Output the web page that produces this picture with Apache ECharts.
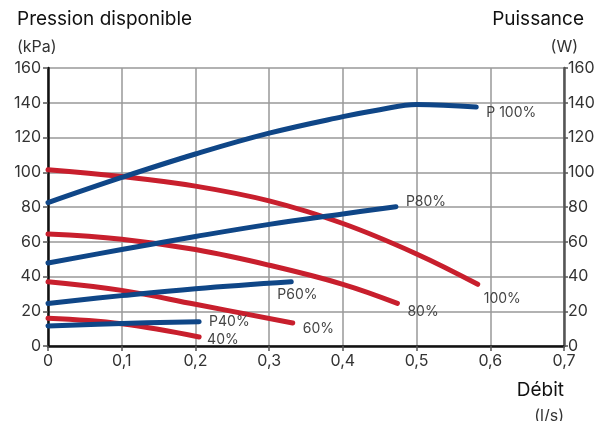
<!DOCTYPE html>
<html>
<head>
<meta charset="utf-8">
<script src="https://cdn.jsdelivr.net/npm/echarts@6/dist/echarts.min.js"></script>
<style>
  html, body { margin: 0; padding: 0; background: #fff; }
  #main { width: 600px; height: 421px; }
</style>
</head>
<body>
<div id="main"></div>
<script>
// courbes pression (rouge) et puissance (bleu), debit en l/s
var xTicks = [0, 0.1, 0.2, 0.3, 0.4, 0.5, 0.6, 0.7];
var yTicks = [0, 20, 40, 60, 80, 100, 120, 140, 160];

var p100x = [0, 0.1, 0.2, 0.3, 0.4, 0.5, 0.583];
var p100y = [101.5, 97.5, 92, 83.5, 70.5, 53, 35.5];
var p80x = [0, 0.1, 0.2, 0.3, 0.4, 0.474];
var p80y = [64.5, 61.5, 55.5, 46.5, 35.5, 24.5];
var p60x = [0, 0.1, 0.2, 0.332];
var p60y = [37, 32, 24, 13.2];
var p40x = [0, 0.1, 0.205];
var p40y = [16, 12.8, 5.2];

var w100x = [0, 0.1, 0.2, 0.3, 0.4, 0.45, 0.5, 0.581];
var w100y = [82.5, 97, 110.5, 122.5, 132, 136, 139, 137.5];
var w80x = [0, 0.1, 0.2, 0.3, 0.4, 0.472];
var w80y = [47.8, 55.5, 63, 70, 76, 80.2];
var w60x = [0, 0.1, 0.2, 0.33];
var w60y = [24.5, 29, 33, 37];
var w40x = [0, 0.1, 0.205];
var w40y = [11.5, 13, 14];

var RED = '#c81f2d';
var BLUE = '#0f4687';
var FONT = 'Inter';

function pts(xs, ys) {
  var out = [];
  for (var i = 0; i < xs.length; i++) out.push([xs[i], ys[i]]);
  return out;
}

function courbe(name, xs, ys, color, yIdx, label, offset) {
  return {
    name: name,
    type: 'line',
    yAxisIndex: yIdx,
    smooth: 0.4,
    symbol: 'none',
    data: pts(xs, ys),
    lineStyle: { color: color, width: 5, cap: 'round' },
    endLabel: {
      show: true,
      formatter: label,
      offset: offset,
      color: '#444',
      fontFamily: FONT,
      fontSize: 14
    },
    z: 3
  };
}

var chart = echarts.init(document.getElementById('main'));
var fmt = function (v) { return String(v).replace('.', ','); };

var option = {
  backgroundColor: '#fff',
  animation: false,
  textStyle: { fontFamily: FONT },
  title: [
    { text: 'Pression disponible', left: 12, top: 5, textStyle: { fontSize: 19, fontWeight: 'normal', color: '#111', fontFamily: FONT } },
    { text: '(kPa)', left: 12, top: 34, textStyle: { fontSize: 16, fontWeight: 'normal', color: '#333', fontFamily: FONT } },
    { text: 'Puissance', right: 11, top: 5, textStyle: { fontSize: 19, fontWeight: 'normal', color: '#111', fontFamily: FONT } },
    { text: '(W)', right: 17, top: 34, textStyle: { fontSize: 16, fontWeight: 'normal', color: '#333', fontFamily: FONT } },
    { text: 'Débit', right: 31, top: 376, textStyle: { fontSize: 19, fontWeight: 'normal', color: '#111', fontFamily: FONT } },
    { text: '(l/s)', right: 31, top: 403, textStyle: { fontSize: 16, fontWeight: 'normal', color: '#333', fontFamily: FONT } }
  ],
  grid: { left: 48, right: 36, top: 68, bottom: 75, show: false },
  xAxis: {
    type: 'value',
    min: xTicks[0],
    max: xTicks[xTicks.length - 1],
    interval: 0.1,
    axisLine: { show: true, onZero: false, lineStyle: { color: '#111', width: 2.5 } },
    axisTick: { show: true, length: 5, lineStyle: { color: '#555', width: 1.5 } },
    axisLabel: { color: '#333', fontSize: 16, fontFamily: FONT, margin: 7, formatter: fmt },
    splitLine: { show: true, lineStyle: { color: '#999', width: 1.5 } }
  },
  yAxis: [{
    type: 'value',
    min: yTicks[0],
    max: yTicks[yTicks.length - 1],
    interval: 20,
    position: 'left',
    axisLine: { show: true, onZero: false, lineStyle: { color: '#111', width: 2.5 } },
    axisTick: { show: true, length: 5, lineStyle: { color: '#555', width: 1.5 } },
    axisLabel: { color: '#333', fontSize: 16, fontFamily: FONT, margin: 7 },
    splitLine: { show: true, lineStyle: { color: '#999', width: 1.5 } }
  }, {
    type: 'value',
    min: yTicks[0],
    max: yTicks[yTicks.length - 1],
    interval: 20,
    position: 'right',
    axisLine: { show: true, onZero: false, lineStyle: { color: '#555', width: 2.5 } },
    axisTick: { show: true, length: 4, lineStyle: { color: '#555', width: 1.5 } },
    axisLabel: { color: '#333', fontSize: 16, fontFamily: FONT, margin: 4 },
    splitLine: { show: false }
  }],
  series: [
    courbe('100%', p100x, p100y, RED, 0, '100%', [-2, 14]),
    courbe('80%', p80x, p80y, RED, 0, '80%', [2, 8]),
    courbe('60%', p60x, p60y, RED, 0, '60%', [2, 6]),
    courbe('40%', p40x, p40y, RED, 0, '40%', [0, 3]),
    courbe('P 100%', w100x, w100y, BLUE, 1, 'P 100%', [2, 6]),
    courbe('P80%', w80x, w80y, BLUE, 1, 'P80%', [2, -5]),
    courbe('P60%', w60x, w60y, BLUE, 1, 'P60%', [-22, 13]),
    courbe('P40%', w40x, w40y, BLUE, 1, 'P40%', [2, 0])
  ]
};

chart.setOption(option);
</script>
</body>
</html>
